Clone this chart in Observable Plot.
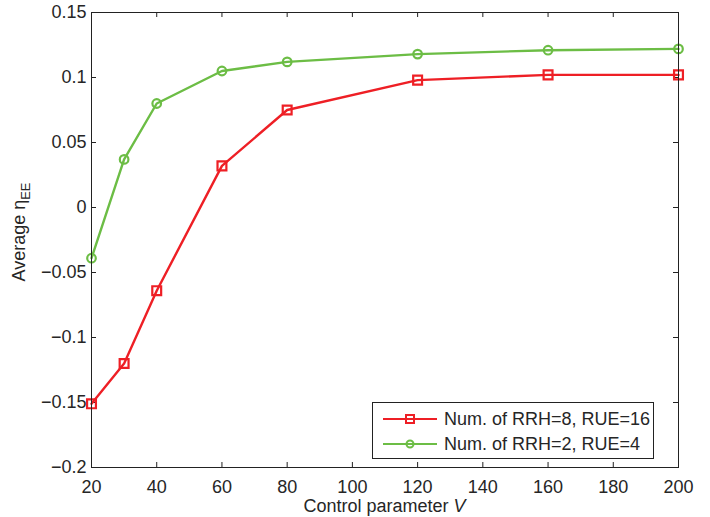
<!DOCTYPE html>
<html><head><meta charset="utf-8">
<script src="https://cdn.jsdelivr.net/npm/d3@7"></script>
<script src="https://cdn.jsdelivr.net/npm/@observablehq/plot@0.6"></script>
<style>
body{margin:0;background:#fff;}
#wrap{position:relative;width:710px;height:517px;font-family:"Liberation Sans",Arial,sans-serif;color:#262626;}
#legend{position:absolute;left:372px;top:402px;width:282px;height:57px;border:1px solid #222;background:#fff;box-sizing:border-box;font-size:18px;}
.row{position:absolute;left:0;height:24px;display:flex;align-items:center;}
.row svg{margin-left:10px;margin-right:7px;}
</style></head><body><div id="wrap"></div>
<script>
const V = [20, 30, 40, 60, 80, 120, 160, 200];
const eeRRH8 = [-0.151, -0.120, -0.064, 0.032, 0.075, 0.098, 0.102, 0.102];
const eeRRH2 = [-0.039, 0.037, 0.080, 0.105, 0.112, 0.118, 0.121, 0.122];
const seriesNames = ["Num. of RRH=8, RUE=16", "Num. of RRH=2, RUE=4"];
const seriesColors = ["#ee1f25", "#6cbd45"];
const seriesSymbols = ["square", "circle"];
const xTicks = [20, 40, 60, 80, 100, 120, 140, 160, 180, 200];
const yTicks = [-0.2, -0.15, -0.1, -0.05, 0, 0.05, 0.1, 0.15];

const rows = [];
[eeRRH8, eeRRH2].forEach((vals, s) => vals.forEach((v, i) => rows.push({V: V[i], ee: v, series: seriesNames[s]})));

const W = 710, H = 517, mL = 91, mR = 32, mT = 12, mB = 50;
const ph = H - mT - mB, pw = W - mL - mR;
const fmt = d3.format("~g");

const plot = Plot.plot({
  width: W, height: H,
  marginLeft: mL, marginRight: mR, marginTop: mT, marginBottom: mB,
  style: {fontFamily: "Liberation Sans, Arial, sans-serif", fontSize: "18px", color: "#262626", background: "#fff"},
  x: {domain: [20, 200]},
  y: {domain: [-0.2, 0.15]},
  color: {domain: seriesNames, range: seriesColors},
  marks: [
    Plot.ruleX(xTicks, {x: d => d, insetTop: ph - 5, stroke: "#222"}),
    Plot.ruleX(xTicks, {x: d => d, insetBottom: ph - 5, stroke: "#222"}),
    Plot.ruleY(yTicks, {y: d => d, insetRight: pw - 5, stroke: "#222"}),
    Plot.ruleY(yTicks, {y: d => d, insetLeft: pw - 5, stroke: "#222"}),
    Plot.axisX(xTicks, {anchor: "bottom", tickSize: 0, tickPadding: 13, tickFormat: fmt, label: null, fontSize: 18}),
    Plot.axisY(yTicks, {anchor: "left", tickSize: 0, tickPadding: 5, tickFormat: fmt, label: null, fontSize: 18}),
    Plot.line(rows, {x: "V", y: "ee", z: "series", stroke: "series", strokeWidth: 2.4}),
    Plot.dot(rows.filter(d => d.series === seriesNames[0]), {x: "V", y: "ee", symbol: "square", r: 5, stroke: "series", strokeWidth: 2.2, fill: "none"}),
    Plot.dot(rows.filter(d => d.series === seriesNames[1]), {x: "V", y: "ee", symbol: "circle", r: 4.3, stroke: "series", strokeWidth: 2.2, fill: "none"}),
    Plot.frame({stroke: "#222"})
  ]
});

const wrap = document.getElementById("wrap");
wrap.appendChild(plot);

const svg = d3.select(plot);
const yl = svg.append("text")
  .attr("transform", "translate(25,232) rotate(-90)")
  .attr("text-anchor", "middle")
  .attr("fill", "#262626")
  .style("font-size", "18px");
yl.append("tspan").text("Average η");
yl.append("tspan").attr("dy", 5).style("font-size", "13px").text("EE");

const xl = svg.append("text")
  .attr("x", mL + pw / 2).attr("y", 512)
  .attr("text-anchor", "middle")
  .attr("fill", "#262626")
  .style("font-size", "18px");
xl.append("tspan").text("Control parameter ");
xl.append("tspan").style("font-style", "italic").text("V");

const legend = document.createElement("div");
legend.id = "legend";
seriesNames.forEach((name, i) => {
  const row = document.createElement("div");
  row.className = "row";
  row.style.top = (i === 0 ? 4 : 29) + "px";
  const sym = seriesSymbols[i] === "square"
    ? `<rect x="23" y="4" width="8" height="8" fill="none" stroke="${seriesColors[i]}" stroke-width="2"/>`
    : `<circle cx="27" cy="8" r="3.5" fill="none" stroke="${seriesColors[i]}" stroke-width="2"/>`;
  row.innerHTML = `<svg width="54" height="16"><line x1="0" x2="54" y1="8" y2="8" stroke="${seriesColors[i]}" stroke-width="2.2"/>${sym}</svg><span>${name}</span>`;
  legend.appendChild(row);
});
wrap.appendChild(legend);
</script></body></html>
